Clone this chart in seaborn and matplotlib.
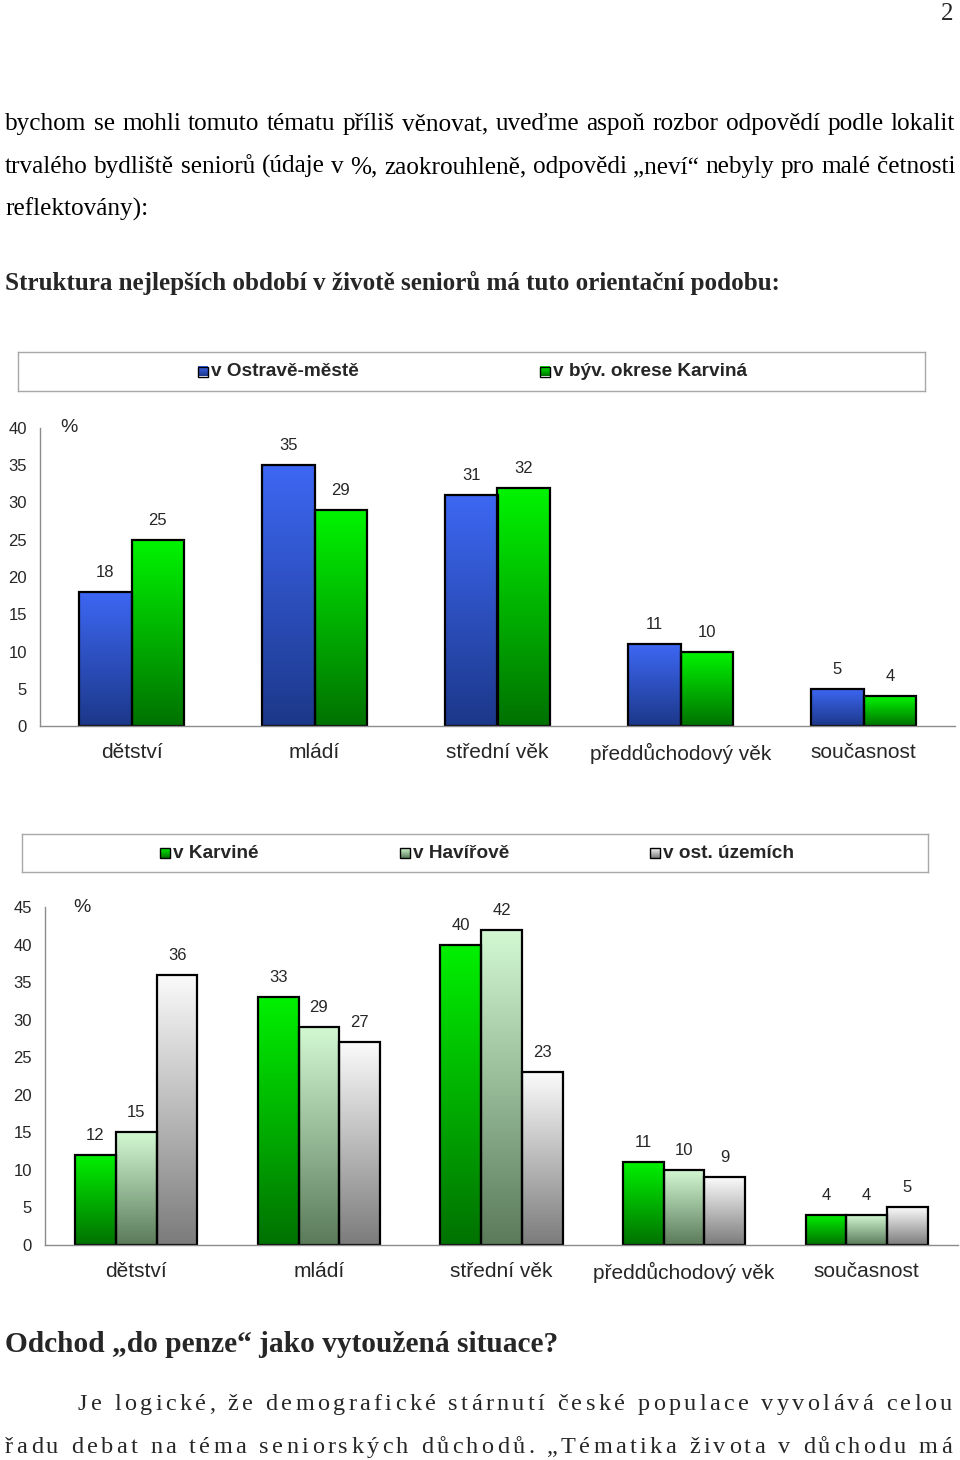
import numpy as np
import pandas as pd
import seaborn as sns
import matplotlib.pyplot as plt
from matplotlib.colors import to_rgb
from matplotlib.patches import Rectangle

W, H = 960, 1460
SANS = 'Liberation Sans'
SERIF = 'Liberation Serif'

periods = ['dětství', 'mládí', 'střední věk', 'předdůchodový věk', 'současnost']

# graf 1 - Ostrava vs. okres Karviná
places1 = ['v Ostravě-městě', 'v býv. okrese Karviná']
ostrava = [18, 35, 31, 11, 5]
okres_karvina = [25, 29, 32, 10, 4]

# graf 2 - Karviná, Havířov, ostatní
places2 = ['v Karviné', 'v Havířově', 'v ost. územích']
karvina = [12, 33, 40, 11, 4]
havirov = [15, 29, 42, 10, 4]
ostatni = [36, 27, 23, 9, 5]

# barevne prechody (nahore, dole)
grad1 = {'v Ostravě-městě': ('#3d67f3', '#1c388a'),
         'v býv. okrese Karviná': ('#00f400', '#007200')}
grad2 = {'v Karviné': ('#00f000', '#007200'),
         'v Havířově': ('#d2f8d2', '#5b7b5b'),
         'v ost. územích': ('#fafafa', '#7c7c7c')}

text_lines = [
    'bychom se mohli tomuto tématu příliš věnovat, uveďme aspoň rozbor odpovědí podle lokalit',
    'trvalého bydliště seniorů (údaje v %, zaokrouhleně, odpovědi „neví“ nebyly pro malé četnosti',
    'reflektovány):',
]
heading1 = 'Struktura nejlepších období v životě seniorů má tuto orientační podobu:'
heading2 = 'Odchod „do penze“ jako vytoužená situace?'
para_lines = [
    'Je logické, že demografické stárnutí české populace vyvolává celou',
    'řadu debat na téma seniorských důchodů. „Tématika života v důchodu má',
]

sns.set_theme(style='white')
plt.rcParams['font.family'] = [SANS, 'DejaVu Sans']

fig = plt.figure(figsize=(W / 100, H / 100), dpi=100)
fig.patch.set_facecolor('white')
renderer = fig.canvas.get_renderer()

page = fig.add_axes([0, 0, 1, 1], zorder=-5)
page.set_xlim(0, W)
page.set_ylim(H, 0)
page.axis('off')


def px_axes(x0, y0, x1, y1):
    return fig.add_axes([x0 / W, 1 - y1 / H, (x1 - x0) / W, (y1 - y0) / H])


def measure(s, **kw):
    t = page.text(0, 0, s, **kw)
    w = t.get_window_extent(renderer).width
    t.remove()
    return w


def justify(s, x0, x1, y, by_char=False, **kw):
    if by_char:
        parts = list(s)
        space = measure('a a', **kw) - measure('aa', **kw)
        widths = [space if p == ' ' else measure(p, **kw) for p in parts]
    else:
        parts = s.split(' ')
        widths = [measure(p, **kw) for p in parts]
    gap = (x1 - x0 - sum(widths)) / (len(parts) - 1)
    x = x0
    for p, w in zip(parts, widths):
        if p != ' ':
            page.text(x, y, p, ha='left', va='baseline', **kw)
        x += w + gap


def gradient(top, bottom, n=64):
    t = np.linspace(0, 1, n)[:, None, None]
    return (1 - t) * np.array(to_rgb(top)) + t * np.array(to_rgb(bottom))


serif = dict(family=SERIF, fontsize=18.2, color='black')

# text stranky
page.text(953, 20, '2', ha='right', va='baseline', family=SERIF, fontsize=18)
justify(text_lines[0], 5, 955, 130, **serif)
justify(text_lines[1], 5, 955, 173, **serif)
page.text(5, 216, text_lines[2], ha='left', va='baseline', **serif)
page.text(5, 290, heading1, ha='left', va='baseline', family=SERIF, fontsize=18.1, weight='bold')
page.text(5, 1352, heading2, ha='left', va='baseline', family=SERIF, fontsize=21.2, weight='bold')
justify(para_lines[0], 78, 952, 1410, by_char=True, family=SERIF, fontsize=17.5)
justify(para_lines[1], 5, 952, 1453, by_char=True, family=SERIF, fontsize=17.5)


def draw_legend(box, entries, grads):
    lg = px_axes(*box)
    for label, mx in entries:
        cy = (box[1] + box[3]) / 2
        top, bot = grads[label]
        lg.imshow(gradient(top, bot), extent=[mx, mx + 10, cy + 5, cy - 5], aspect='auto', zorder=1)
        lg.add_patch(Rectangle((mx, cy - 5), 10, 10, fill=False, ec='black', lw=1, zorder=2))
        lg.text(mx + 13, cy + 0.5, label, ha='left', va='center', fontsize=13.7, weight='bold')
    lg.set_xlim(box[0], box[2])
    lg.set_ylim(box[3], box[1])
    lg.set_xticks([])
    lg.set_yticks([])
    for s in lg.spines.values():
        s.set_color('#a8a8a8')
        s.set_linewidth(1)


def draw_chart(ax, df, hue_order, grads, width, ymax, pct_x):
    sns.barplot(data=df, x='obdobi', y='pct', hue='lokalita', order=periods, hue_order=hue_order,
                palette=[grads[h][0] for h in hue_order], width=width, saturation=1,
                edgecolor='black', linewidth=1.6, legend=False, ax=ax)
    lookup = {to_rgb(grads[h][0]): h for h in hue_order}
    for bar in ax.patches:
        hue = lookup[to_rgb(bar.get_facecolor())]
        x, w, h = bar.get_x(), bar.get_width(), bar.get_height()
        ax.imshow(gradient(*grads[hue]), extent=[x, x + w, 0, h], aspect='auto',
                  interpolation='bilinear', zorder=1)
        bar.set_facecolor('none')
        bar.set_zorder(2)
        ax.annotate(f'{h:.0f}', (x + w / 2, h), xytext=(0, 14), textcoords='offset points',
                    ha='center', va='center', fontsize=12)
    ax.set_xlim(-0.5, len(periods) - 0.5)
    ax.set_ylim(0, ymax)
    ax.set_yticks(range(0, ymax + 1, 5))
    ax.set_xticks(np.arange(-0.5, len(periods), 1))
    ax.set_xticklabels([])
    ax.set_xticks(range(len(periods)), minor=True)
    ax.set_xticklabels(periods, minor=True, fontsize=15)
    ax.tick_params(axis='x', which='major', length=6, width=1, color='#8c8c8c', direction='out')
    ax.tick_params(axis='x', which='minor', length=0, pad=12)
    ax.tick_params(axis='y', length=3, width=1, color='#8c8c8c', direction='out', pad=6.5, labelsize=12)
    ax.set_xlabel('')
    ax.set_ylabel('')
    sns.despine(ax=ax)
    for s in ('left', 'bottom'):
        ax.spines[s].set_color('#8c8c8c')
        ax.spines[s].set_linewidth(1)
    ax.text(pct_x, ymax, '%', ha='center', va='center', fontsize=14)
    ax.set_facecolor('none')


df1 = pd.DataFrame({'obdobi': periods * 2,
                    'lokalita': [places1[0]] * 5 + [places1[1]] * 5,
                    'pct': ostrava + okres_karvina})
df2 = pd.DataFrame({'obdobi': periods * 3,
                    'lokalita': [places2[0]] * 5 + [places2[1]] * 5 + [places2[2]] * 5,
                    'pct': karvina + havirov + ostatni})

draw_legend((18, 352, 925, 391), [(places1[0], 198), (places1[1], 540)], grad1)
ax1 = px_axes(40, 428, 955, 726)
draw_chart(ax1, df1, places1, grad1, 0.575, 40, -0.34)

draw_legend((22, 834, 928, 872), [(places2[0], 160), (places2[1], 400), (places2[2], 650)], grad2)
ax2 = px_axes(45, 907, 958, 1245)
draw_chart(ax2, df2, places2, grad2, 0.67, 45, -0.30)

fig.savefig('out.png', dpi=100)
